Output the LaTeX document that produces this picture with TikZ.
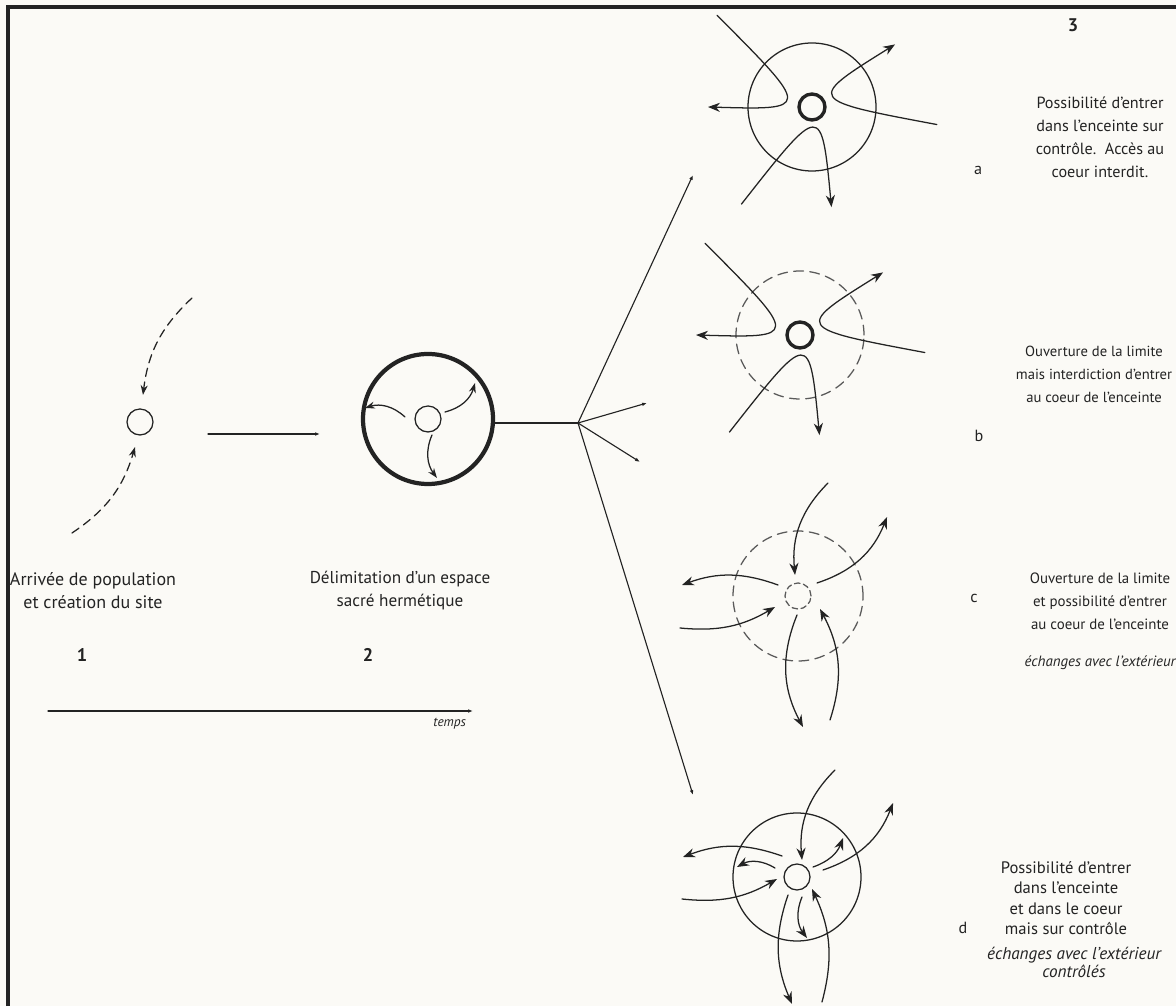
\documentclass[tikz,border=0pt]{standalone}
\usepackage{fontspec}
\setmainfont{PT Sans}
\usetikzlibrary{arrows.meta}
\definecolor{paper}{RGB}{251,250,246}
\definecolor{ink}{RGB}{35,35,35}

\begin{document}
\begin{tikzpicture}[x=0.025cm,y=0.025cm,line cap=round,
    ring/.style={line width=0.9pt,draw=ink},
    openring/.style={line width=0.9pt,draw=ink!75,dash pattern=on 7pt off 4.5pt},
    core/.style={line width=2.4pt,draw=ink},
    wire/.style={line width=0.8pt,draw=ink,-{Latex[length=3.5pt,width=2.6pt]}},
    flow/.style={line width=0.9pt,draw=ink,-{Stealth[length=8.5pt,width=6.5pt]}},
    smallflow/.style={flow,-{Stealth[length=7pt,width=5pt]}},
    come/.style={smallflow,dash pattern=on 6pt off 4pt},
    txt/.style={text=ink,align=center,font=\fontsize{#1}{16.3}\selectfont},
    txt/.default=11.5,
    note/.style={text=ink,align=center,font=\fontsize{#1}{12.8}\selectfont\itshape},
    num/.style={text=ink,font=\fontsize{13}{15}\selectfont\bfseries}]
    \useasboundingbox[fill=paper] (0,0) rectangle (1176,1006);
    \draw[ink,line width=2.2pt,line cap=butt] (8,0) -- (8,999) -- (1176,999);

    % 1
    \begin{scope}[shift={(140,584)}]
        \draw[ring] (0,0) circle[radius=13];
        \draw[come] (52,124) to[bend right=20] (3,27);
        \draw[come] (-68,-111) to[bend right=20] (-5,-25);
    \end{scope}
    \coordinate (from1) at (208,572);
    \coordinate (to2) at (320,572);
    \draw[wire] (from1) -- (to2);

    % 2
    \begin{scope}[shift={(428,587)}]
        \draw[ring,line width=3pt] (0,0) circle[radius=65];
        \draw[ring] (0,0) circle[radius=13];
        \foreach \x/\y/\u/\w in {-23/2/-63/11, 17/7/47/36, 4/-16/9/-59}
            \draw[smallflow] (\x,\y) to[bend right=30] (\u,\w);
    \end{scope}
    \coordinate (out2) at (495,583);
    \coordinate (fork) at (578,583);
    \draw[ring] (out2) -- (fork);
    \foreach \n/\x/\y in {a/693/831, b/647/603, c/640/544, d/693/211}{
        \coordinate (to\n) at (\x,\y);
        \draw[wire] (fork) -- (to\n);
    }

    % 3 a et b
    \foreach \cx/\cy/\rim in {812/899/ring, 800/671/openring}{
        \begin{scope}[shift={(\cx,\cy)}]
            \draw[\rim] (0,0) circle[radius=64];
            \draw[core] (0,0) circle[radius=13];
            \foreach \v/\dv/\p/\dp/\q/\dq in {160/27/136/132/180/104, 27/24/-8/126/37/104, 272/21/234/120/281/102}{
                \pgfmathsetmacro{\kx}{(\dv*cos(\v)-0.125*(\dp*cos(\p)+\dq*cos(\q)))/0.75}
                \pgfmathsetmacro{\ky}{(\dv*sin(\v)-0.125*(\dp*sin(\p)+\dq*sin(\q)))/0.75}
                \draw[flow] (\p:\dp) .. controls (\kx,\ky) .. (\q:\dq);
            }
        \end{scope}
    }

    % 3 c
    \begin{scope}[shift={(798,410)}]
        \draw[openring] (0,0) circle[radius=65];
        \draw[openring,dash pattern=on 4pt off 2.5pt] (0,0) circle[radius=13];
        \foreach \x/\y/\u/\w/\b in {30/113/-3/21/25, 19/13/89/79/25, -20/11/-116/11/20, -118/-32/-23/-11/18, -1/-19/5/-131/25, 32/-124/22/-13/23}
            \draw[flow] (\x,\y) to[bend right=\b] (\u,\w);
    \end{scope}

    % 3 d
    \begin{scope}[shift={(797,129)}]
        \draw[ring] (0,0) circle[radius=64];
        \draw[ring] (0,0) circle[radius=13];
        \foreach \x/\y/\u/\w/\b in {38/107/5/17/25, 26/7/96/74/25, 16/10/46/39/25, -15/21/-114/20/20, -22/9/-60/10/30, -115/-22/-20/-2/18, 5/-20/10/-61/30, -9/-18/-5/-127/21, 25/-125/15/-12/20}
            \draw[flow] (\x,\y) to[bend right=\b] (\u,\w);
    \end{scope}

    \node[num] (n1) at (82,351) {1};
    \node[num] (n2) at (368,351) {2};
    \node[num] (n3) at (1073,981) {3};
    \node[txt=12.8] (lab1) at (93,415) {Arrivée de population\\et création du site};
    \node[txt=12.2] (lab2) at (400,415) {Délimitation d’un espace\\sacré hermétique};
    \node[txt] (laba) at (1100,869) {Possibilité d’entrer\\dans l’enceinte sur\\contrôle.~~Accès au\\coeur interdit.};
    \node[txt=10.4] (labb) at (1094,632) {Ouverture de la limite\\mais interdiction d’entrer\\au coeur de l’enceinte};
    \node[txt=10.6] (labc) at (1100,405) {Ouverture de la limite\\et possibilité d’entrer\\au coeur de l’enceinte};
    \node[note=10.6] (notec) at (1100,343) {échanges avec l’extérieur};
    \node[text=ink,align=center,font=\fontsize{11.8}{14.5}\selectfont] (labd) at (1066,108) {Possibilité d’entrer\\dans l’enceinte\\et dans le coeur\\mais sur contrôle};
    \node[note=12.2] (noted) at (1074,44) {échanges avec l’extérieur\\contrôlés};
    \foreach \n/\x/\y in {a/978/836, b/979/570, c/974/408, d/963/78}
        \node[txt] (tag\n) at (\x,\y) {\n};

    \coordinate (t0) at (48,295);
    \coordinate (t1) at (473,295);
    \draw[wire] (t0) -- (t1);
    \node[text=ink,font=\fontsize{9.5}{11}\selectfont\itshape,anchor=east] (temps) at (471,282) {temps};
\end{tikzpicture}
\end{document}
